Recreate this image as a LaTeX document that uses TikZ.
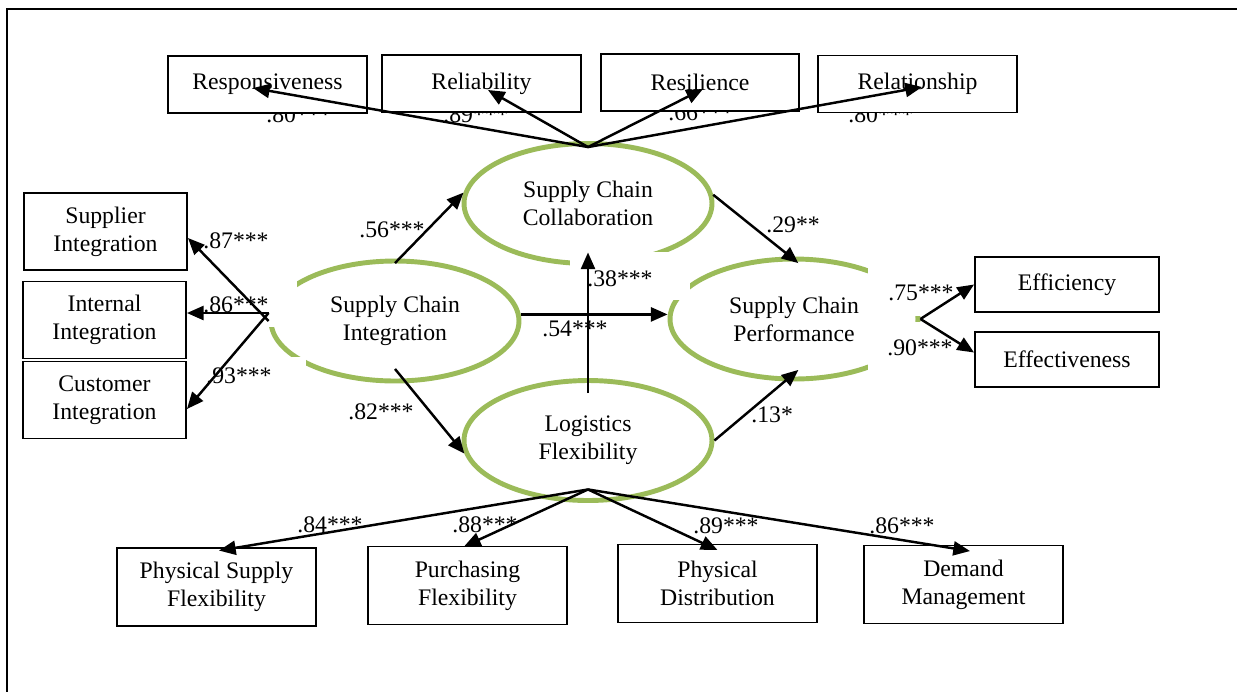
\documentclass[tikz,border=0pt]{standalone}
\usepackage{fontspec}
\setmainfont{Liberation Serif}
\usetikzlibrary{arrows.meta,shapes.geometric}
\definecolor{latentgreen}{HTML}{9BBB59}
\begin{document}
\begin{tikzpicture}[x=0.02cm,y=-0.02cm,
  font=\fontsize{13.5pt}{15.8pt}\selectfont,
  ind/.style={draw=black,line width=1.1pt,fill=white,align=center,inner sep=0pt},
  topbox/.style={ind,minimum width=3.97cm,minimum height=1.14cm},
  sidebox/.style={ind,minimum width=3.26cm,minimum height=1.54cm},
  effbox/.style={ind,minimum width=3.68cm,minimum height=1.10cm},
  botbox/.style={ind,minimum width=3.98cm,minimum height=1.56cm},
  latent/.style={ellipse,draw=latentgreen,line width=2.8pt,minimum width=4.96cm,
    minimum height=2.4cm,align=center,inner sep=0pt},
  link/.style={line width=1.4pt,-{Triangle[length=9.5pt,width=8pt]}},
  coef/.style={anchor=base west,inner sep=0pt}
]
\useasboundingbox (0,0) rectangle (1237,691);
\clip (0,0) rectangle (1237,691);

% outer frame
\draw[line width=1.1pt] (7,9) rectangle (1300,760);

% latent constructs
\node[latent] (scc) at (588,203.5) {Supply Chain\\Collaboration};
\node[latent] (sci) at (395,321) {Supply Chain\\Integration};
\node[latent] (scp) at (794,319) {Supply Chain\\Performance};
\node[latent] (lf)  at (588,440.5) {Logistics\\Flexibility};

% white label backgrounds that interrupt the ellipse outlines
\fill[white] (570,252) rectangle (690,300);
\fill[white] (868,262) rectangle (926,316);
\fill[white] (868,322) rectangle (926,378);
\fill[white] (200,280) rectangle (297,327);
\fill[white] (200,357) rectangle (306,400);

% path coefficients and loadings
\node[coef] (c1)  at (266,122) {.80***};
\node[coef] (c2)  at (443,122) {.89***};
\node[coef] (c3)  at (668,120) {.66***};
\node[coef] (c4)  at (848,122) {.80***};
\node[coef] (c5)  at (359,237) {.56***};
\node[coef] (c6)  at (587,286) {.38***};
\node[coef] (c7)  at (542,336) {.54***};
\node[coef] (c8)  at (203,248) {.87***};
\node[coef] (c9)  at (203,312) {.86***};
\node[coef] (c10) at (206,383) {.93***};
\node[coef] (c11) at (348,419) {.82***};
\node[coef] (c12) at (766,232) {.29**};
\node[coef] (c13) at (751,422) {.13*};
\node[coef] (c14) at (888,300) {.75***};
\node[coef] (c15) at (887,355) {.90***};
\node[coef] (c16) at (297,532) {.84***};
\node[coef] (c17) at (452,532) {.88***};
\node[coef] (c18) at (693,533) {.89***};
\node[coef] (c19) at (869,533) {.86***};

% indicators
\node[topbox] (resp) at (267.5,84.5) {Responsiveness};
\node[topbox] (reli) at (481.5,83.5) {Reliability};
\node[topbox] (resi) at (700,82.5) {Resilience};
\node[topbox] (rela) at (917.5,84) {Relationship};

\node[sidebox] (supp) at (105.5,231.5) {Supplier\\Integration};
\node[sidebox] (inte) at (104.5,320) {Internal\\Integration};
\node[sidebox] (cust) at (104.5,400) {Customer\\Integration};

\node[effbox] (effi) at (1067,284.5) {Efficiency};
\node[effbox] (effe) at (1067,359.5) {Effectiveness};

\node[botbox] (psf)  at (216.5,587) {Physical Supply\\Flexibility};
\node[botbox] (purf) at (467.5,585.5) {Purchasing\\Flexibility};
\node[botbox] (pd)   at (717.5,583.5) {Physical\\Distribution};
\node[botbox] (dm)   at (963.5,584.5) {Demand\\Management};

% measurement arrows
\coordinate (sccT) at ([yshift=-0.12cm]scc.north);
\draw[link] (sccT) -- ([xshift=-0.29cm,yshift=-0.07cm]resp.center);
\draw[link] (sccT) -- ([xshift=0.13cm,yshift=-0.13cm]reli.center);
\draw[link] (sccT) -- ([xshift=0.06cm,yshift=-0.13cm]resi.center);
\draw[link] (sccT) -- ([xshift=0.09cm,yshift=-0.06cm]rela.center);

\coordinate (sciW) at ([yshift=0.16cm]sci.west);
\draw[link] (sci.west) -- ([yshift=-0.13cm]supp.east);
\draw[link] (sciW) -- ([yshift=0.14cm]inte.east);
\draw[link] (sciW) -- ([yshift=-0.18cm]cust.east);

\draw[link] (scp.east) -- (effi.west);
\draw[link] (scp.east) -- ([yshift=0.14cm]effe.west);

\coordinate (lfS) at ([yshift=0.27cm]lf.south);
\draw[link] (lfS) -- ([xshift=0.05cm,yshift=-0.07cm]psf.north);
\draw[link] (lfS) -- ([xshift=-0.07cm,yshift=-0.02cm]purf.north);
\draw[link] (lfS) -- ([yshift=-0.13cm]pd.north);
\draw[link] (lfS) -- ([xshift=0.13cm,yshift=-0.13cm]dm.north);

% structural paths
\draw[link] ([yshift=-0.09cm]sci.north) -- (scc.175);
\draw[link] ([yshift=0.29cm]sci.south) -- (lf.186);
\draw[link] (sci.3) -- (sci.3 -| scp.west);
\draw[link] ([yshift=-0.3cm]lf.north) -- ([yshift=0.27cm]scc.south);
\draw[link] (scc.4) -- ([yshift=-0.13cm]scp.86);
\draw[link] (lf.east) -- ([yshift=0.23cm]scp.274);
\end{tikzpicture}
\end{document}
